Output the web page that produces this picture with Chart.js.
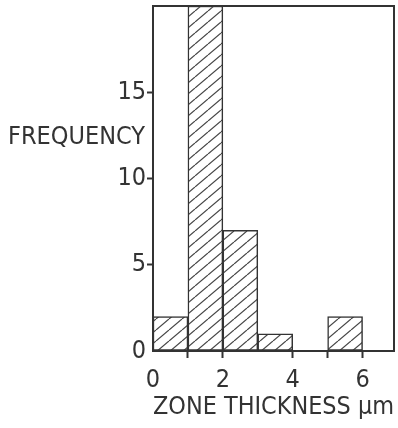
<!DOCTYPE html>
<html>
<head>
<meta charset="utf-8">
<script src="https://cdn.jsdelivr.net/npm/chart.js@4"></script>
<style>
  html, body { margin: 0; padding: 0; background: #fff; }
  #wrap { position: relative; width: 398px; height: 428px; }
</style>
</head>
<body>
<div id="wrap"><canvas id="hist" width="398" height="428"></canvas></div>
<script>
// bin centres (zone thickness, µm) and counts
const binCentres = [0.5, 1.5, 2.5, 3.5, 4.5, 5.5, 6.5];
const counts = [2, 20, 7, 1, 0, 2, 0];
const xTickLabels = [0, 2, 4, 6];
const yTickLabels = [0, 5, 10, 15];

const ink = '#333';
const font = "'Liberation Sans Narrow', 'DejaVu Sans Condensed', sans-serif";

// diagonal hatch "/" used for the bars
function makeHatch() {
    const w = 13, h = 11;
    const c = document.createElement('canvas');
    c.width = w; c.height = h;
    const g = c.getContext('2d');
    g.fillStyle = '#fff';
    g.fillRect(0, 0, w, h);
    g.strokeStyle = '#444';
    g.lineWidth = 1.2;
    for (let k = -1; k <= 1; k++) {
        g.beginPath();
        g.moveTo(k * w, h);
        g.lineTo((k + 1) * w, 0);
        g.stroke();
    }
    return g.createPattern(c, 'repeat');
}

// frame round the plot plus the horizontal y label
const framePlugin = {
    id: 'frame',
    afterDraw(chart) {
        const { ctx, chartArea: a } = chart;
        ctx.save();
        ctx.strokeStyle = ink;
        ctx.lineWidth = 2;
        ctx.strokeRect(a.left, a.top, a.right - a.left, a.bottom - a.top);
        ctx.fillStyle = ink;
        ctx.font = '25px ' + font;
        ctx.textAlign = 'left';
        ctx.textBaseline = 'middle';
        ctx.fillText('FREQUENCY', 8, 137);
        ctx.restore();
    }
};

const data = binCentres.map((x, i) => ({ x: x, y: counts[i] }));

new Chart(document.getElementById('hist'), {
    type: 'bar',
    data: {
        datasets: [{
            data: data,
            backgroundColor: makeHatch(),
            borderColor: ink,
            borderWidth: 1.5,
            borderSkipped: false,
            barPercentage: 1,
            categoryPercentage: 1
        }]
    },
    options: {
        responsive: false,
        animation: false,
        events: [],
        layout: { padding: { top: 6, right: 4, left: 0, bottom: 0 } },
        plugins: { legend: { display: false }, tooltip: { enabled: false } },
        scales: {
            x: {
                type: 'linear',
                min: 0,
                max: 6.9,
                offset: false,
                afterFit(scale) { scale.height = 77; },
                afterBuildTicks(scale) {
                    scale.ticks = [0, 1, 2, 3, 4, 5, 6].map(v => ({ value: v }));
                },
                border: { color: ink, width: 2 },
                grid: {
                    offset: false,
                    drawOnChartArea: false,
                    tickLength: 7,
                    tickWidth: 2,
                    tickColor: ctx => (ctx.tick && (ctx.tick.value === 0 || ctx.tick.value === 3)) ? 'rgba(0,0,0,0)' : ink
                },
                ticks: {
                    color: ink,
                    font: { family: font, size: 25 },
                    padding: 7,
                    autoSkip: false,
                    maxRotation: 0,
                    callback: v => xTickLabels.includes(v) ? String(v) : ''
                },
                title: {
                    display: true,
                    text: 'ZONE THICKNESS \u03bcm',
                    color: ink,
                    font: { family: font, size: 25 },
                    padding: { top: 0, bottom: 6 }
                }
            },
            y: {
                min: 0,
                max: 20,
                afterFit(scale) {
                    scale.width = 153;
                    scale.paddingTop = 0;
                    scale.paddingBottom = 0;
                },
                afterBuildTicks(scale) {
                    scale.ticks = yTickLabels.map(v => ({ value: v }));
                },
                border: { color: ink, width: 2 },
                grid: {
                    drawOnChartArea: false,
                    tickLength: 6,
                    tickWidth: 2,
                    tickColor: ctx => (ctx.tick && ctx.tick.value === 0) ? 'rgba(0,0,0,0)' : ink
                },
                ticks: {
                    color: ink,
                    font: { family: font, size: 25 },
                    padding: 1
                }
            }
        }
    },
    plugins: [framePlugin]
});
</script>
</body>
</html>
